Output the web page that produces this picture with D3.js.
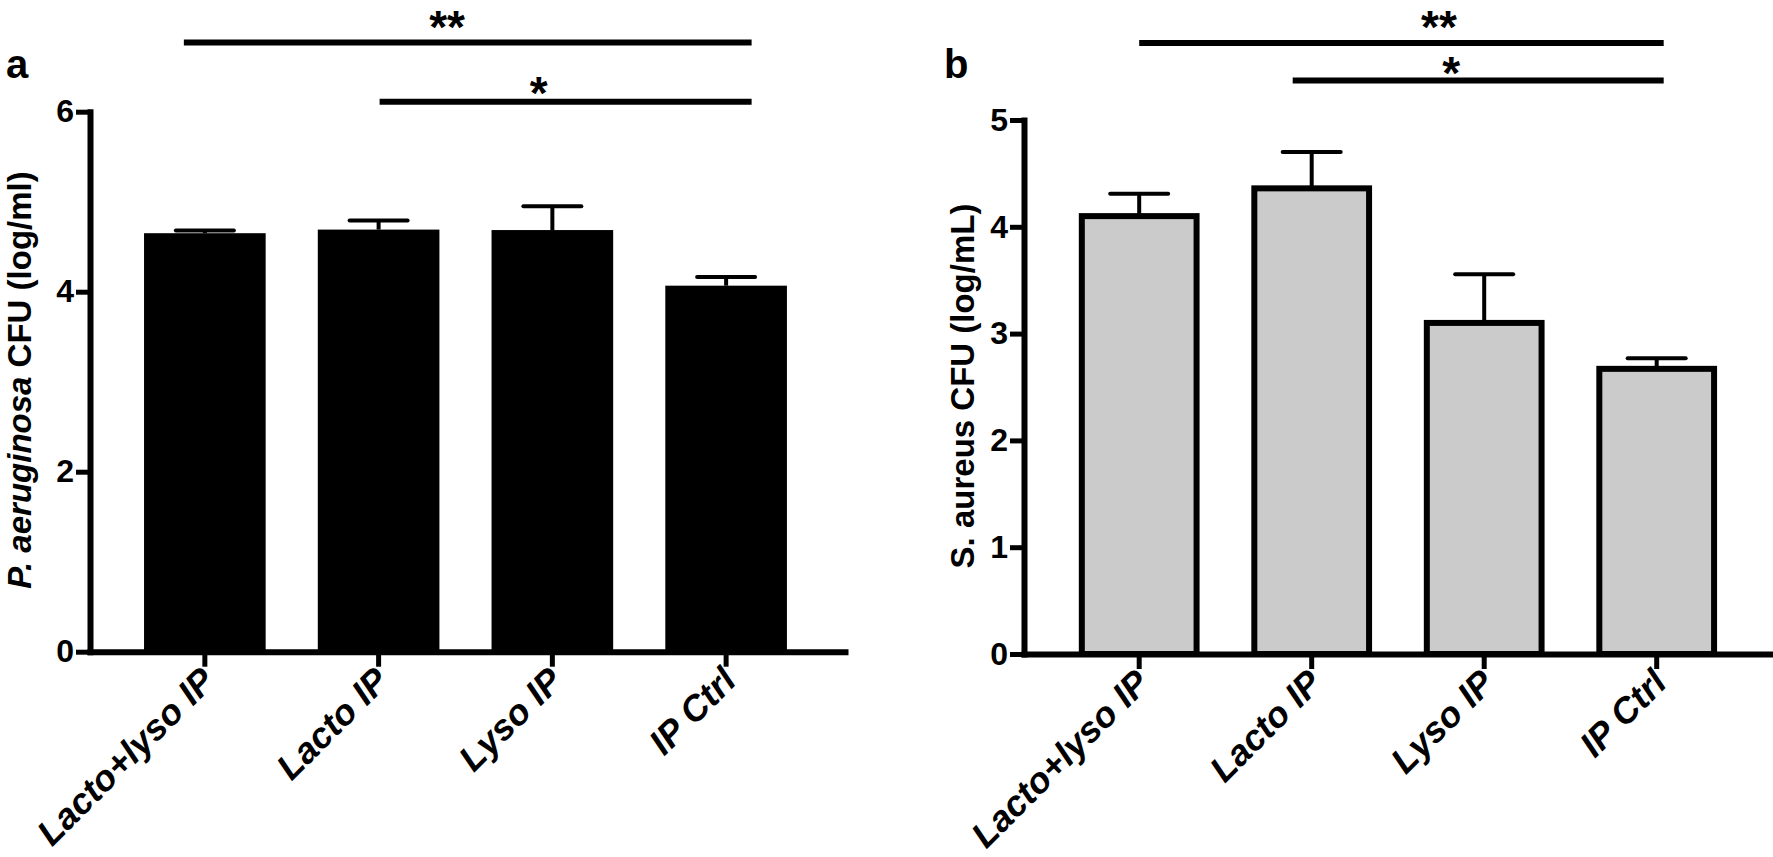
<!DOCTYPE html>
<html>
<head>
<meta charset="utf-8">
<script src="https://cdn.jsdelivr.net/npm/d3@7"></script>
<style>
  body { margin: 0; background: #fff; }
  svg { display: block; }
  text { font-family: "Liberation Sans", Arial, sans-serif; }
</style>
</head>
<body>
<div id="chart"></div>
<script>
// ---- data ----
var categories = ["Lacto+lyso IP", "Lacto IP", "Lyso IP", "IP Ctrl"];

var paMeans = [4.65, 4.69, 4.685, 4.067];
var paSem   = [0.03, 0.10, 0.265, 0.096];
var paTicks = [0, 2, 4, 6];

var saMeans = [4.10, 4.36, 3.10, 2.67];
var saSem   = [0.21, 0.34, 0.455, 0.10];
var saTicks = [0, 1, 2, 3, 4, 5];

var paSig = [
    { from: "Lacto+lyso IP", to: "IP Ctrl", level: 6.77, label: "**" },
    { from: "Lacto IP",      to: "IP Ctrl", level: 6.11, label: "*" }
];
var saSig = [
    { from: "Lacto+lyso IP", to: "IP Ctrl", level: 5.72, label: "**" },
    { from: "Lacto IP",      to: "IP Ctrl", level: 5.37, label: "*" }
];

// ---- layout ----
var width = 1773, height = 857;

var svg = d3.select("#chart").append("svg")
    .attr("width", width)
    .attr("height", height);

var panels = [
    {
        letter: "a", letterX: 6, letterY: 78,
        means: paMeans, sem: paSem, ticks: paTicks, sig: paSig,
        yMax: 6, yRange: [651.7, 111.7],
        xRange: [90, 845], padOuter: 0.3226, align: 0.482,
        fill: "#000", stroke: "none", strokeW: 0,
        yLabel: [{ t: "P. aeruginosa", italic: true }, { t: " CFU (log/ml)" }],
        yLabelX: 31, yLabelY: 380,
        // hand placed bracket nudges (px): line start, line end, label x, label y
        nudge: [[-21, 25.5, -20.6, 1], [1, 25.5, -27, 7]]
    },
    {
        letter: "b", letterX: 944, letterY: 78,
        means: saMeans, sem: saSem, ticks: saTicks, sig: saSig,
        yMax: 5, yRange: [654, 120],
        xRange: [1024, 1773], padOuter: 0.321, align: 0.495,
        fill: "#cbcbcb", stroke: "#000", strokeW: 6,
        yLabel: [{ t: "S. aureus CFU (log/mL)" }],
        yLabelX: 974, yLabelY: 386,
        nudge: [[0, 7, 37.5, 0], [-19, 7, -27, 8.5]]
    }
];

panels.forEach(drawPanel);

function drawPanel(p) {
    var g = svg.append("g");

    var y = d3.scaleLinear().domain([0, p.yMax]).range(p.yRange);
    var x = d3.scaleBand()
        .domain(categories)
        .range(p.xRange)
        .paddingInner(0.3)
        .paddingOuter(p.padOuter)
        .align(p.align);
    var bw = x.bandwidth();
    var cx = function(c) { return x(c) + bw / 2; };

    var rows = categories.map(function(c, i) {
        return { cat: c, mean: p.means[i], sem: p.sem[i] };
    });

    // bars
    g.append("g").selectAll("rect")
        .data(rows)
        .enter().append("rect")
        .attr("x", function(d) { return x(d.cat) + p.strokeW / 2; })
        .attr("width", bw - p.strokeW)
        .attr("y", function(d) { return y(d.mean); })
        .attr("height", function(d) { return y(0) - y(d.mean); })
        .style("fill", p.fill)
        .style("stroke", p.stroke)
        .style("stroke-width", p.strokeW);

    // error bars (upper only)
    var err = g.append("g")
        .style("stroke", "#000")
        .style("stroke-width", 4)
        .style("stroke-linecap", "round");
    err.selectAll("line.stem")
        .data(rows)
        .enter().append("line")
        .attr("class", "stem")
        .style("stroke-linecap", "butt")
        .attr("x1", function(d) { return cx(d.cat); })
        .attr("x2", function(d) { return cx(d.cat); })
        .attr("y1", function(d) { return y(d.mean); })
        .attr("y2", function(d) { return y(d.mean + d.sem); });
    err.selectAll("line.cap")
        .data(rows)
        .enter().append("line")
        .attr("class", "cap")
        .attr("x1", function(d) { return cx(d.cat) - 29; })
        .attr("x2", function(d) { return cx(d.cat) + 29; })
        .attr("y1", function(d) { return y(d.mean + d.sem); })
        .attr("y2", function(d) { return y(d.mean + d.sem); });

    // y axis
    var yAxis = g.append("g")
        .attr("transform", "translate(" + p.xRange[0] + ",0)")
        .call(d3.axisLeft(y).tickValues(p.ticks).tickFormat(d3.format("d"))
            .tickSize(14).tickSizeOuter(0).tickPadding(2));
    // x axis
    var xAxis = g.append("g")
        .attr("transform", "translate(0," + y(0) + ")")
        .call(d3.axisBottom(x).tickSize(15).tickSizeOuter(0).tickFormat(""));

    [yAxis, xAxis].forEach(function(a) {
        a.select(".domain")
            .style("stroke", "#000")
            .style("stroke-width", 6)
            .style("stroke-linecap", "square");
        a.selectAll(".tick line")
            .style("stroke", "#000")
            .style("stroke-width", 5);
    });
    yAxis.selectAll(".tick text")
        .style("font-size", "32px")
        .style("font-weight", "bold")
        .style("fill", "#000");

    // rotated category labels
    g.append("g").selectAll("text")
        .data(categories)
        .enter().append("text")
        .attr("transform", function(c) {
            return "translate(" + (cx(c) + 12) + "," + (y(0) + 31) + ") rotate(-45)";
        })
        .style("text-anchor", "end")
        .style("font-size", "36px")
        .style("font-weight", "bold")
        .style("font-style", "italic")
        .text(function(c) { return c; });

    // y axis title
    var yl = g.append("text")
        .attr("transform", "translate(" + p.yLabelX + "," + p.yLabelY + ") rotate(-90)")
        .style("text-anchor", "middle")
        .style("font-size", "33px")
        .style("font-weight", "bold");
    p.yLabel.forEach(function(s) {
        yl.append("tspan")
            .style("font-style", s.italic ? "italic" : "normal")
            .text(s.t);
    });

    // panel letter
    g.append("text")
        .attr("x", p.letterX)
        .attr("y", p.letterY)
        .style("font-size", "40px")
        .style("font-weight", "bold")
        .text(p.letter);

    // significance brackets
    var sig = g.append("g");
    p.sig.forEach(function(s, i) {
        var n = p.nudge[i];
        var x1 = cx(s.from) + n[0], x2 = cx(s.to) + n[1];
        sig.append("line")
            .attr("x1", x1).attr("x2", x2)
            .attr("y1", y(s.level)).attr("y2", y(s.level))
            .style("stroke", "#000")
            .style("stroke-width", 6);
        sig.append("text")
            .attr("x", (x1 + x2) / 2 + n[2])
            .attr("y", y(s.level) + n[3])
            .style("text-anchor", "middle")
            .style("font-size", "46px")
            .style("font-weight", "bold")
            .text(s.label);
    });
}
</script>
</body>
</html>
